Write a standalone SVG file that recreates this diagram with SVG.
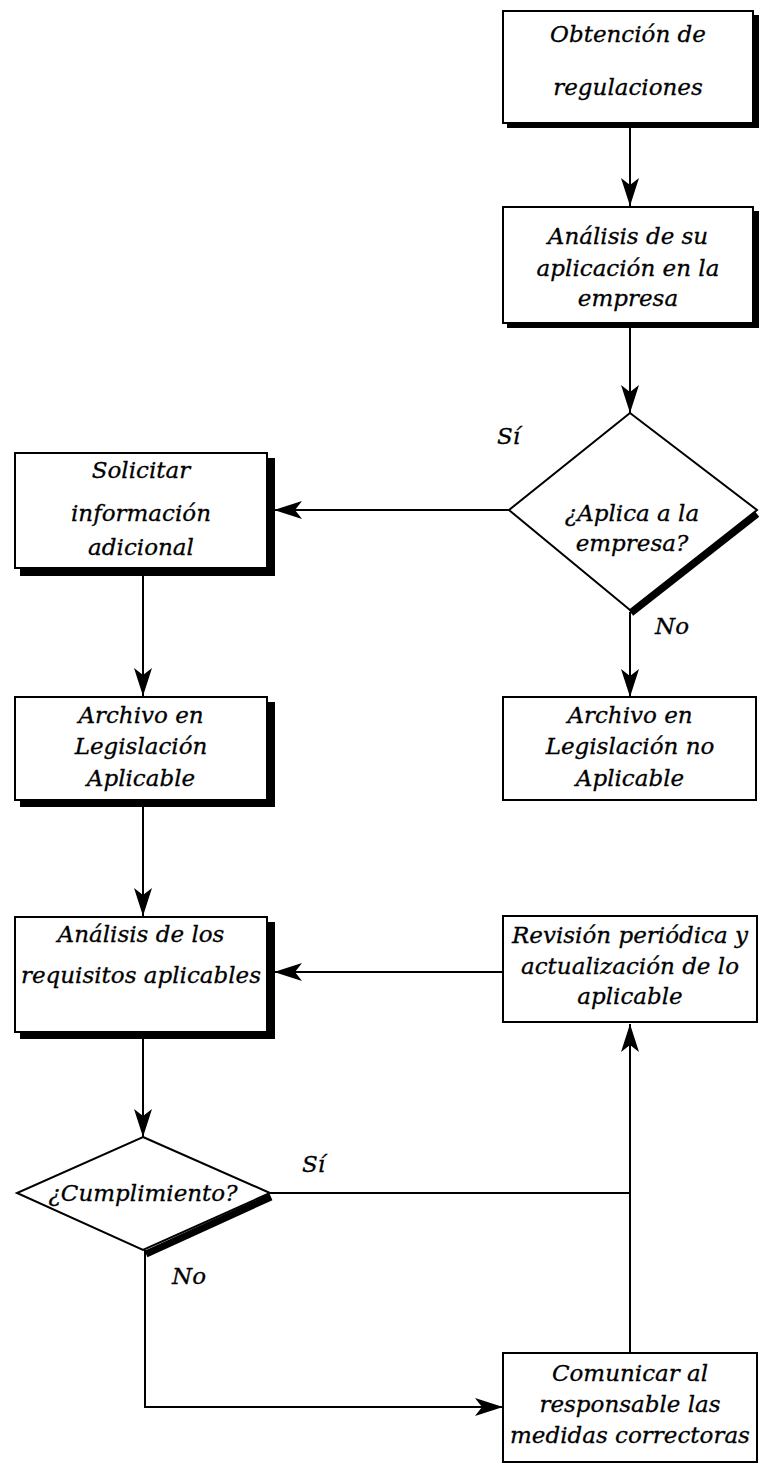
<svg xmlns="http://www.w3.org/2000/svg" width="759" height="1471" viewBox="0 0 759 1471">
<style>
.box{fill:#fff;stroke:#000;stroke-width:2}
.sh{fill:#000}
.t{font-family:"DejaVu Serif","Liberation Serif",serif;font-style:italic;font-size:23px;fill:#000;stroke:#000;stroke-width:0.3;text-anchor:middle}
.lbl{font-family:"DejaVu Serif","Liberation Serif",serif;font-style:italic;font-size:23px;fill:#000;stroke:#000;stroke-width:0.3}
.c{fill:none;stroke:#000;stroke-width:2}
</style>
<defs>
<marker id="ah" markerUnits="userSpaceOnUse" markerWidth="30" markerHeight="20" refX="28" refY="9" orient="auto">
<path d="M0,0 L28,9 L0,18 L7,9 z" fill="#000"/>
</marker>
</defs>
<rect width="759" height="1471" fill="#fff"/>
<g id="connectors">
<line class="c" x1="630" y1="127" x2="630" y2="206" marker-end="url(#ah)"/>
<line class="c" x1="630" y1="327" x2="630" y2="413" marker-end="url(#ah)"/>
<line class="c" x1="509" y1="510" x2="274" y2="510" marker-end="url(#ah)"/>
<line class="c" x1="630" y1="612" x2="630" y2="697" marker-end="url(#ah)"/>
<line class="c" x1="143" y1="576" x2="143" y2="696" marker-end="url(#ah)"/>
<line class="c" x1="143" y1="806" x2="143" y2="916" marker-end="url(#ah)"/>
<line class="c" x1="503" y1="972" x2="274" y2="972" marker-end="url(#ah)"/>
<line class="c" x1="143" y1="1039" x2="143" y2="1137" marker-end="url(#ah)"/>
<polyline class="c" points="270,1193 630,1193"/>
<line class="c" x1="630" y1="1353" x2="630" y2="1024" marker-end="url(#ah)"/>
<polyline class="c" points="145,1250 145,1407 503,1407" marker-end="url(#ah)"/>
<text class="lbl" x="497" y="444">Sí</text>
<text class="lbl" x="655" y="634">No</text>
<text class="lbl" x="302" y="1172">Sí</text>
<text class="lbl" x="172" y="1284">No</text>
</g>
<g id="n1">
<rect class="sh" x="507" y="15" width="252" height="113"/>
<rect class="box" x="503" y="11" width="250" height="112"/>
<text class="t" x="628" y="42">Obtención de</text>
<text class="t" x="628" y="95">regulaciones</text>
</g>
<g id="n2">
<rect class="sh" x="507" y="211" width="252" height="117"/>
<rect class="box" x="503" y="207" width="250" height="116"/>
<text class="t" x="628" y="244">Análisis de su</text>
<text class="t" x="628" y="276">aplicación en la</text>
<text class="t" x="628" y="306">empresa</text>
</g>
<g id="n3">
<line x1="757" y1="514" x2="631" y2="613" stroke="#000" stroke-width="7"/>
<polygon class="box" points="630,413 757,510 630,610 509,510"/>
<text class="t" x="632" y="521">¿Aplica a la</text>
<text class="t" x="632" y="551">empresa?</text>
</g>
<g id="n4">
<rect class="sh" x="20" y="458" width="255" height="118"/>
<rect class="box" x="15" y="453" width="252" height="115"/>
<text class="t" x="141" y="478">Solicitar</text>
<text class="t" x="141" y="521">información</text>
<text class="t" x="141" y="555">adicional</text>
</g>
<g id="n5">
<rect class="sh" x="20" y="702" width="255" height="105"/>
<rect class="box" x="15" y="697" width="252" height="103"/>
<text class="t" x="141" y="723">Archivo en</text>
<text class="t" x="141" y="754">Legislación</text>
<text class="t" x="141" y="786">Aplicable</text>
</g>
<g id="n6">
<rect class="box" x="503" y="697" width="253" height="103"/>
<text class="t" x="630" y="723">Archivo en</text>
<text class="t" x="630" y="754">Legislación no</text>
<text class="t" x="630" y="786">Aplicable</text>
</g>
<g id="n7">
<rect class="sh" x="20" y="922" width="255" height="117"/>
<rect class="box" x="15" y="917" width="252" height="115"/>
<text class="t" x="141" y="942">Análisis de los</text>
<text class="t" x="141" y="983">requisitos aplicables</text>
</g>
<g id="n8">
<rect class="box" x="503" y="916" width="254" height="106"/>
<text class="t" x="630" y="943">Revisión periódica y</text>
<text class="t" x="630" y="974">actualización de lo</text>
<text class="t" x="630" y="1004">aplicable</text>
</g>
<g id="n9">
<line x1="271" y1="1197" x2="146" y2="1254" stroke="#000" stroke-width="7"/>
<polygon class="box" points="143,1137 270,1193 143,1250 17,1193"/>
<text class="t" x="143" y="1201">¿Cumplimiento?</text>
</g>
<g id="n10">
<rect class="box" x="503" y="1353" width="254" height="109"/>
<text class="t" x="630" y="1381">Comunicar al</text>
<text class="t" x="630" y="1412">responsable las</text>
<text class="t" x="630" y="1443">medidas correctoras</text>
</g>
</svg>
